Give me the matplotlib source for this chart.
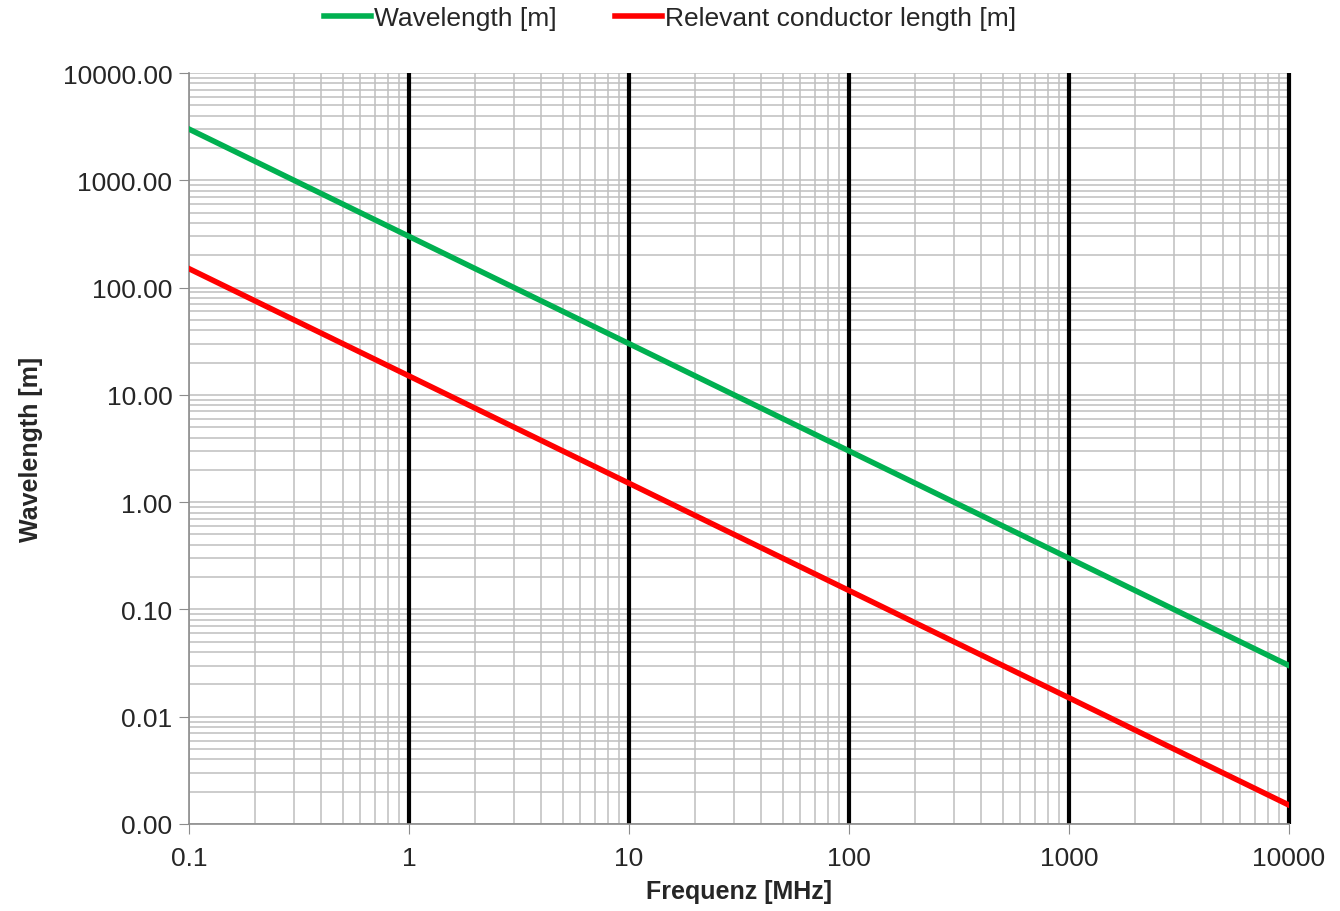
import matplotlib.pyplot as plt
from matplotlib.ticker import FixedLocator, FuncFormatter, NullFormatter

plt.rcParams['font.family'] = ['Liberation Sans', 'DejaVu Sans']

# values
freq_mhz = [0.1, 0.2, 0.3, 0.5, 1, 2, 3, 5, 10, 20, 30, 50, 100, 200, 300, 500,
            1000, 2000, 3000, 5000, 10000]
wavelength_m = [3000, 1500, 1000, 600, 300, 150, 100, 60, 30, 15, 10, 6, 3, 1.5, 1.0, 0.6,
                0.3, 0.15, 0.1, 0.06, 0.03]
conductor_m = [150, 75, 50, 30, 15, 7.5, 5, 3, 1.5, 0.75, 0.5, 0.3, 0.15, 0.075, 0.05, 0.03,
               0.015, 0.0075, 0.005, 0.003, 0.0015]

x_ticks = [0.1, 1, 10, 100, 1000, 10000]
y_ticks = [0.001, 0.01, 0.1, 1, 10, 100, 1000, 10000]

fig = plt.figure(figsize=(13.4, 9.12), dpi=100)
ax = fig.add_axes([189 / 1340, 1 - 825 / 912, 1100 / 1340, 751 / 912])

ax.set_xscale('log')
ax.set_yscale('log')
ax.set_xlim(0.1, 10000)
ax.set_ylim(0.001, 10000)

# grid: grey minor/major, black verticals at each decade
ax.grid(True, which='both', axis='both', color='#bfbfbf', linewidth=1.1, zorder=1)
for xv in x_ticks[1:]:
    ax.axvline(xv, color='black', linewidth=3, zorder=2.5, clip_on=False,
               solid_capstyle='butt')

ax.plot(freq_mhz, wavelength_m, color='#00b050', linewidth=4, label='Wavelength [m]', zorder=3)
ax.plot(freq_mhz, conductor_m, color='#ff0000', linewidth=4,
        label='Relevant conductor length [m]', zorder=3)

ax.xaxis.set_major_locator(FixedLocator(x_ticks))
ax.xaxis.set_major_formatter(FuncFormatter(lambda v, p: f'{v:g}'))
ax.xaxis.set_minor_formatter(NullFormatter())
ax.yaxis.set_major_locator(FixedLocator(y_ticks))
ax.yaxis.set_major_formatter(FuncFormatter(lambda v, p: f'{v:.2f}'))
ax.yaxis.set_minor_formatter(NullFormatter())

ax.tick_params(which='major', length=7, color='#8c8c8c', labelsize=19, labelcolor='#262626')
ax.tick_params(which='minor', length=0)
ax.tick_params(axis='x', pad=9)
ax.tick_params(axis='y', pad=5)

for s in ['top', 'right']:
    ax.spines[s].set_visible(False)
for s in ['left', 'bottom']:
    ax.spines[s].set_color('#8c8c8c')
    ax.spines[s].set_linewidth(1.2)

ax.set_xlabel('Frequenz [MHz]', fontsize=18, fontweight='bold', color='#262626', labelpad=6)
ax.set_ylabel('Wavelength [m]', fontsize=18, fontweight='bold', color='#262626', labelpad=14)

fig.legend(loc='center', bbox_to_anchor=(0.5, 1 - 19 / 912), ncol=2, frameon=False,
           fontsize=19, handlelength=1.8, handletextpad=0.1, columnspacing=2.2,
           labelcolor='#262626')

plt.savefig('out.png', dpi=100)
